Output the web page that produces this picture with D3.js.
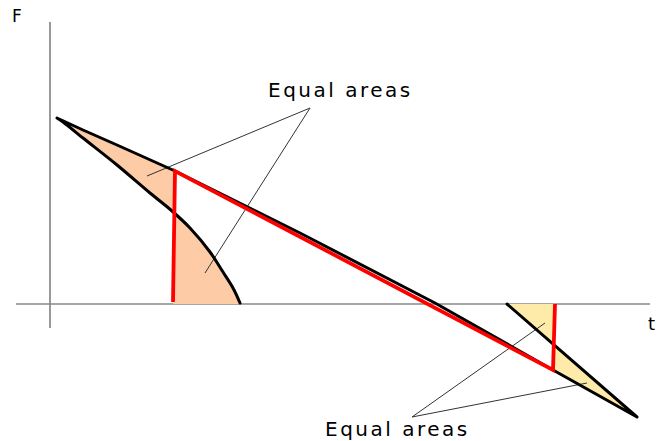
<!DOCTYPE html>
<html>
<head>
<meta charset="utf-8">
<script src="https://cdn.jsdelivr.net/npm/d3@7"></script>
<style>
  html, body { margin: 0; padding: 0; background: #fff; }
  svg { display: block; }
  .label { font-family: "DejaVu Sans", sans-serif; fill: #000; }
</style>
</head>
<body>
<div id="chart"></div>
<script>
// Upper branch (also the long falling line that ends in the right lobe)
const upperT = [0.07, 0.33, 0.67, 1.25, 2.50, 3.85, 5.03, 5.87];
const upperF = [1.86, 1.74, 1.59, 1.33, 0.71, 0.01, -0.66, -1.13];

// Lower left curve, from the tip down to the t axis
const lowerT = [0.07, 0.13, 0.33, 0.67, 1.00, 1.22, 1.40, 1.60, 1.73, 1.83, 1.90];
const lowerF = [1.86, 1.82, 1.66, 1.39, 1.11, 0.93, 0.76, 0.52, 0.32, 0.16, 0.01];

// Right branch, from the lower tip back up to the axis
const rightT = [5.87, 4.57];
const rightF = [-1.13, 0.0];

// Red switching line
const redT = [1.23, 1.25, 5.03, 5.05];
const redF = [0.02, 1.33, -0.66, 0.0];

// Axis extents
const tRange = [-0.34, 6.0];
const fRange = [-0.24, 2.82];

// Annotation labels and pointer lines
const labelText = ["Equal areas", "Equal areas"];
const labelT = [2.18, 2.75];
const labelF = [2.07, -1.32];
const apexT = [2.60, 3.62];
const apexF = [1.96, -1.13];
const targetT = [[0.97, 1.55], [4.95, 5.37]];
const targetF = [[1.28, 0.31], [-0.19, -0.79]];

document.addEventListener('DOMContentLoaded', () => {
    const width = 657, height = 441;

    const svg = d3.select("#chart")
        .append("svg")
        .attr("width", width)
        .attr("height", height);

    const x = d3.scaleLinear().domain([0, 1]).range([50, 150]);
    const y = d3.scaleLinear().domain([0, 1]).range([304, 204]);

    const pts = (ts, fs) => ts.map((t, i) => [t, fs[i]]);
    const upper = pts(upperT, upperF);
    const lower = pts(lowerT, lowerF);
    const right = pts(rightT, rightF);
    const red = pts(redT, redF);

    const lin = d3.line().x(d => x(d[0])).y(d => y(d[1]));
    const smooth = d3.line().x(d => x(d[0])).y(d => y(d[1])).curve(d3.curveCatmullRom);
    const cont = s => "L" + s.slice(1); // continue an existing path

    // Axes
    svg.append("line")
        .attr("x1", x(0)).attr("x2", x(0))
        .attr("y1", y(fRange[1])).attr("y2", y(fRange[0]))
        .attr("stroke", "#777").attr("stroke-width", 1.5);
    svg.append("line")
        .attr("x1", x(tRange[0])).attr("x2", x(tRange[1]))
        .attr("y1", y(0)).attr("y2", y(0))
        .attr("stroke", "#888").attr("stroke-width", 1.5);

    // Left shaded area
    const upperLeft = upper.filter(d => d[0] <= redT[1]);
    const leftFill = lin(upperLeft) +
        cont(lin([[redT[0], 0], [lowerT[lowerT.length - 1], 0]])) +
        cont(smooth(lower.slice().reverse())) + "Z";
    svg.append("path").attr("d", leftFill).attr("fill", "#fdcba5");

    // Right shaded area
    const upperRight = upper.filter(d => d[0] >= redT[2]);
    const rightFill = lin([right[1], [redT[3], 0], [redT[2], redF[2]]]) +
        cont(lin(upperRight)) + "Z";
    svg.append("path").attr("d", rightFill).attr("fill", "#feeaa9");

    // Pointer lines
    labelText.forEach((_, i) => {
        targetT[i].forEach((tt, j) => {
            svg.append("line")
                .attr("x1", x(apexT[i])).attr("y1", y(apexF[i]))
                .attr("x2", x(tt)).attr("y2", y(targetF[i][j]))
                .attr("stroke", "#333").attr("stroke-width", 1);
        });
    });

    // Black outline: lower curve up to the tip, long line down, right branch back up
    const outline = smooth(lower.slice().reverse()) + cont(lin(upper)) + cont(lin(right));
    svg.append("path")
        .attr("d", outline)
        .attr("fill", "none")
        .attr("stroke", "#000")
        .attr("stroke-width", 3)
        .attr("stroke-linejoin", "round")
        .attr("stroke-linecap", "round");

    // Red line
    svg.append("path")
        .attr("d", lin(red))
        .attr("fill", "none")
        .attr("stroke", "#ff0000")
        .attr("stroke-width", 3.8)
        .attr("stroke-linejoin", "miter");

    // Text
    labelText.forEach((s, i) => {
        svg.append("text")
            .attr("class", "label")
            .attr("x", x(labelT[i])).attr("y", y(labelF[i]))
            .attr("font-size", 20)
            .attr("letter-spacing", 2.5)
            .text(s);
    });
    svg.append("text").attr("class", "label")
        .attr("x", 12).attr("y", 22).attr("font-size", 17).text("F");
    svg.append("text").attr("class", "label")
        .attr("x", 648).attr("y", 330).attr("font-size", 18).text("t");
});
</script>
</body>
</html>
